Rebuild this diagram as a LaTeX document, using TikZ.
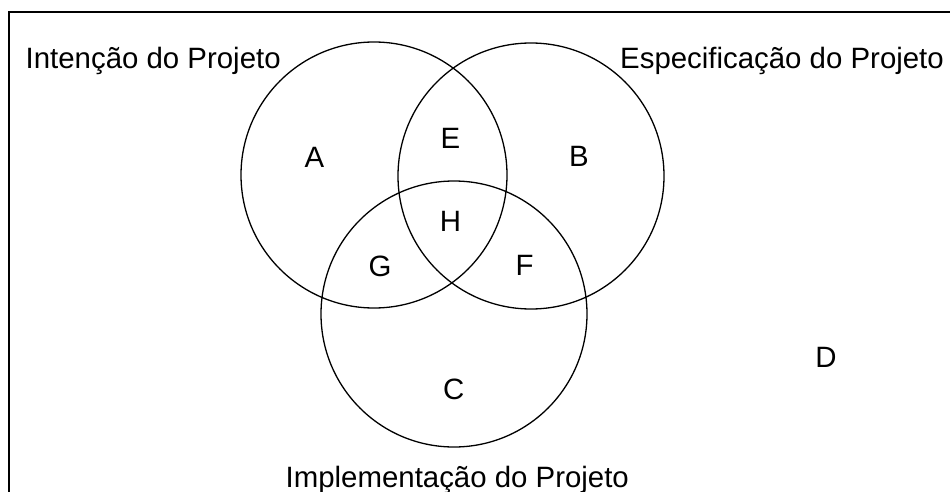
\documentclass[tikz,border=0pt]{standalone}
\usepackage{fontspec}
\setmainfont{Liberation Sans}

\begin{document}
\begin{tikzpicture}[x=1pt,y=-1pt,
    conjunto/.style={circle,draw,line width=1.3pt,minimum size=266pt,inner sep=0pt},
    rotulo/.style={inner sep=0pt,font=\fontsize{29.4}{35}\selectfont}]
  \useasboundingbox (0,0) rectangle (950,492);
  \draw[line width=1.7pt] (950,12) -- (9.3,12) -- (9.3,492);
  \node[conjunto] (intencao) at (374,175) {};
  \node[conjunto] (especificacao) at (531,176) {};
  \node[conjunto] (implementacao) at (454,314) {};
  \node[rotulo,anchor=base west] (tIntencao) at (25.5,69) {Intenção do Projeto};
  \node[rotulo,anchor=base east] (tEspecificacao) at (944,69) {Especificação do Projeto};
  \node[rotulo,anchor=base west] (tImplementacao) at (285.5,487) {Implementação do Projeto};
  \node[rotulo] (rA) at (314.5,157) {A};
  \node[rotulo] (rB) at (579,156.7) {B};
  \node[rotulo] (rC) at (453.7,389.5) {C};
  \node[rotulo] (rD) at (826,357.5) {D};
  \node[rotulo] (rE) at (450.5,138.5) {E};
  \node[rotulo] (rF) at (524.5,265.5) {F};
  \node[rotulo] (rG) at (380,266) {G};
  \node[rotulo] (rH) at (450.5,221.3) {H};
\end{tikzpicture}
\end{document}
